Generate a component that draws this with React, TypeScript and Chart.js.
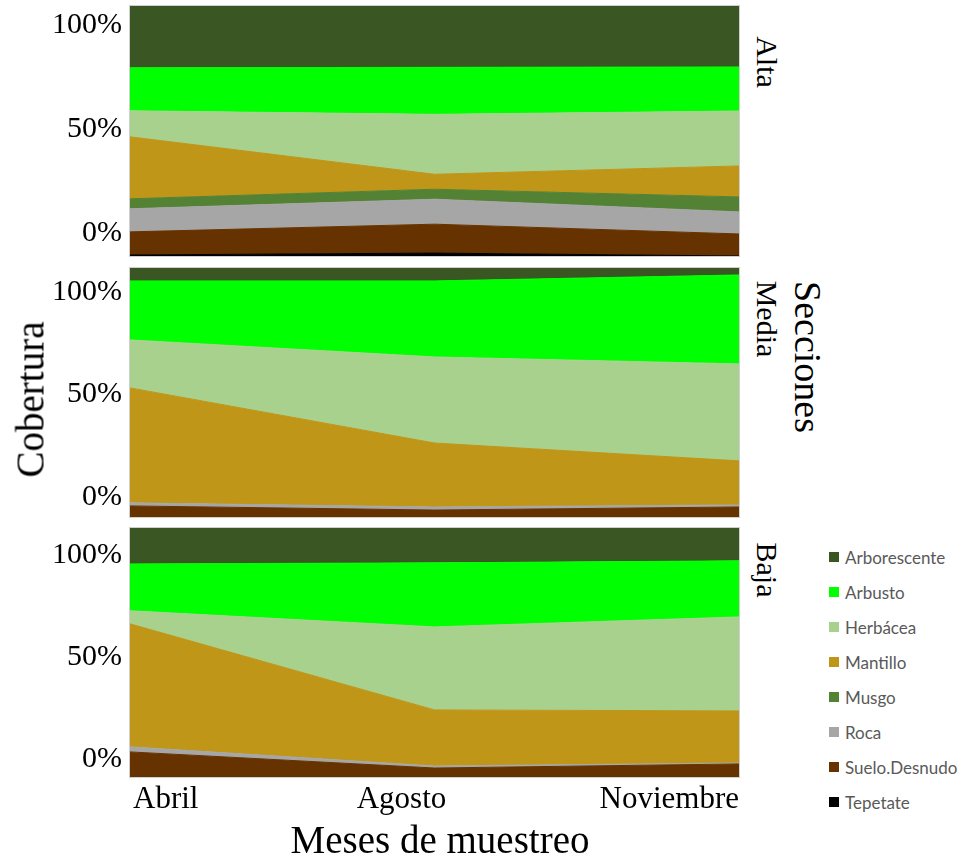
import React, { useEffect, useRef } from "react";
import { Chart, registerables } from "chart.js";

Chart.register(...registerables);

// ---------- data ----------
const months = ["Abril", "Agosto", "Noviembre"];

// stacking order: bottom -> top
const seriesNames = [
  "Tepetate",
  "Suelo.Desnudo",
  "Roca",
  "Musgo",
  "Mantillo",
  "Herbácea",
  "Arbusto",
  "Arborescente",
];
const seriesColors = [
  "#000000",
  "#663300",
  "#A6A6A6",
  "#548235",
  "#BF9618",
  "#A9D18E",
  "#00FF00",
  "#3A5623",
];

const yTicks = [0, 50, 100];

// band thickness (cover %), one row per series, one column per month
const altaValues = [
  [0.5, 1.4, 0.0],
  [11.1, 13.9, 10.6],
  [11.1, 12.0, 10.6],
  [4.8, 4.8, 7.2],
  [29.8, 7.2, 14.9],
  [12.5, 28.8, 26.4],
  [20.7, 22.6, 21.2],
  [29.7, 29.5, 29.3],
];
const mediaValues = [
  [0, 0, 0],
  [5.4, 3.4, 4.9],
  [1.5, 1.5, 1.0],
  [0, 0, 0],
  [56.1, 31.2, 21.5],
  [23.4, 42.0, 47.3],
  [28.8, 37.1, 43.4],
  [6.3, 6.3, 3.4],
];
const bajaValues = [
  [0, 0, 0],
  [12.3, 4.4, 6.4],
  [2.5, 1.0, 0.5],
  [0, 0, 0],
  [60.3, 27.5, 25.5],
  [6.4, 40.7, 46.1],
  [23.0, 31.4, 27.5],
  [17.6, 17.1, 16.1],
];

// visible y range of each panel (axis %)
const altaRange = [-11.06, 109.14];
const mediaRange = [-9.76, 111.74];
const bajaRange = [-8.9, 113.2];

const sectionLabels = ["Alta", "Media", "Baja"];
const legendOrder = [
  "Arborescente",
  "Arbusto",
  "Herbácea",
  "Mantillo",
  "Musgo",
  "Roca",
  "Suelo.Desnudo",
  "Tepetate",
];

const SERIF = "'Liberation Serif', 'Times New Roman', serif";

// ---------- plugins ----------
const framePlugin = {
  id: "frame",
  afterDatasetsDraw(chart: any) {
    const { left, top, right, bottom } = chart.chartArea;
    const ctx = chart.ctx;
    ctx.save();
    ctx.strokeStyle = "#cfcfcf";
    ctx.lineWidth = 1;
    ctx.strokeRect(left - 0.5, top - 0.5, right - left + 1, bottom - top + 1);
    ctx.restore();
  },
};

const monthPlugin = {
  id: "monthLabels",
  afterDraw(chart: any) {
    const ctx = chart.ctx;
    const xs = chart.scales.x;
    const y = chart.chartArea.bottom + 31;
    ctx.save();
    ctx.font = `31px ${SERIF}`;
    ctx.fillStyle = "#000";
    ctx.textBaseline = "alphabetic";
    months.forEach((m, i) => {
      const px = xs.getPixelForValue(i);
      if (i === 0) {
        ctx.textAlign = "left";
        ctx.fillText(m, px + 3, y);
      } else if (i === months.length - 1) {
        ctx.textAlign = "right";
        ctx.fillText(m, px, y);
      } else {
        ctx.textAlign = "center";
        ctx.fillText(m, px - 33, y);
      }
    });
    ctx.restore();
  },
};

type PanelProps = {
  values: number[][];
  range: number[];
  top: number;
  height: number;
  padTop: number;
  padBottom: number;
  showMonths?: boolean;
};

function Panel({ values, range, top, height, padTop, padBottom, showMonths }: PanelProps) {
  const ref = useRef<HTMLCanvasElement>(null);
  useEffect(() => {
    if (!ref.current) return;
    const datasets = seriesNames.map((name, i) => {
      const data = months.map((_, j) => {
        let s = range[0];
        for (let k = 0; k <= i; k++) s += values[k][j];
        return s;
      });
      const hasValue = values[i].some((v) => v > 0);
      return {
        label: name,
        data,
        backgroundColor: seriesColors[i],
        borderColor: hasValue ? seriesColors[i] : "rgba(0,0,0,0)",
        borderWidth: 1,
        pointRadius: 0,
        pointHoverRadius: 0,
        tension: 0,
        fill: i === 0 ? "start" : "-1",
      };
    });
    const chart = new Chart(ref.current, {
      type: "line",
      data: { labels: months, datasets: datasets as any },
      options: {
        animation: false,
        responsive: false,
        events: [],
        layout: { padding: { top: padTop, bottom: padBottom, left: 0, right: 6 } },
        plugins: {
          legend: { display: false },
          tooltip: { enabled: false },
        },
        scales: {
          x: { type: "category", offset: false, display: false },
          y: {
            min: range[0],
            max: range[1],
            afterBuildTicks: (s: any) => {
              s.ticks = yTicks.map((v) => ({ value: v }));
            },
            afterFit: (s: any) => {
              s.width = 130;
              s.paddingTop = 0;
              s.paddingBottom = 0;
            },
            grid: { display: false, drawTicks: false },
            border: { display: false },
            ticks: {
              padding: 8,
              color: "#000",
              font: { family: SERIF, size: 30 },
              callback: (v: any) => `${v}%`,
            },
          },
        },
      },
      plugins: showMonths ? [framePlugin, monthPlugin] : [framePlugin],
    });
    return () => chart.destroy();
  }, []);
  return (
    <div style={{ position: "absolute", left: 0, top, width: 745, height }}>
      <canvas ref={ref} width={745} height={height} style={{ display: "block" }} />
    </div>
  );
}

function RotLabel({
  text,
  cx,
  cy,
  size,
  angle,
  width,
}: {
  text: string;
  cx: number;
  cy: number;
  size: number;
  angle: number;
  width: number;
}) {
  return (
    <div
      style={{
        position: "absolute",
        left: cx - width / 2,
        top: cy - size / 2,
        width,
        height: size,
        lineHeight: `${size}px`,
        fontSize: size,
        fontFamily: SERIF,
        color: "#000",
        textAlign: "center",
        whiteSpace: "nowrap",
        transform: `rotate(${angle}deg)`,
        transformOrigin: "50% 50%",
      }}
    >
      {text}
    </div>
  );
}

export default function App() {
  const stripCenters = [62, 319, 570];
  return (
    <div
      style={{
        position: "absolute",
        left: 0,
        top: 0,
        width: 966,
        height: 862,
        background: "#fff",
        overflow: "hidden",
      }}
    >
      <Panel values={altaValues} range={altaRange} top={0} height={262} padTop={6} padBottom={6} />
      <Panel values={mediaValues} range={mediaRange} top={262} height={260} padTop={6} padBottom={5} />
      <Panel
        values={bajaValues}
        range={bajaRange}
        top={522}
        height={340}
        padTop={6}
        padBottom={85}
        showMonths
      />

      {sectionLabels.map((s, i) => (
        <RotLabel key={s} text={s} cx={767} cy={stripCenters[i]} size={30} angle={90} width={140} />
      ))}
      <RotLabel text="Secciones" cx={808} cy={357} size={38} angle={90} width={220} />
      <RotLabel text="Cobertura" cx={30} cy={399} size={39} angle={-90} width={220} />

      <div
        style={{
          position: "absolute",
          left: 240,
          top: 820,
          width: 400,
          height: 39,
          lineHeight: "39px",
          fontSize: 39,
          fontFamily: SERIF,
          color: "#000",
          textAlign: "center",
          whiteSpace: "nowrap",
        }}
      >
        Meses de muestreo
      </div>

      {legendOrder.map((name, i) => {
        const idx = seriesNames.indexOf(name);
        const cy = 557 + i * 35;
        return (
          <div
            key={name}
            style={{
              position: "absolute",
              left: 829,
              top: cy - 12,
              height: 24,
              display: "flex",
              alignItems: "center",
              whiteSpace: "nowrap",
            }}
          >
            <div style={{ width: 10, height: 10, background: seriesColors[idx], marginRight: 6 }} />
            <span style={{ fontFamily: "Lato, 'Open Sans', sans-serif", fontSize: 17, color: "#595959" }}>
              {name}
            </span>
          </div>
        );
      })}
    </div>
  );
}
